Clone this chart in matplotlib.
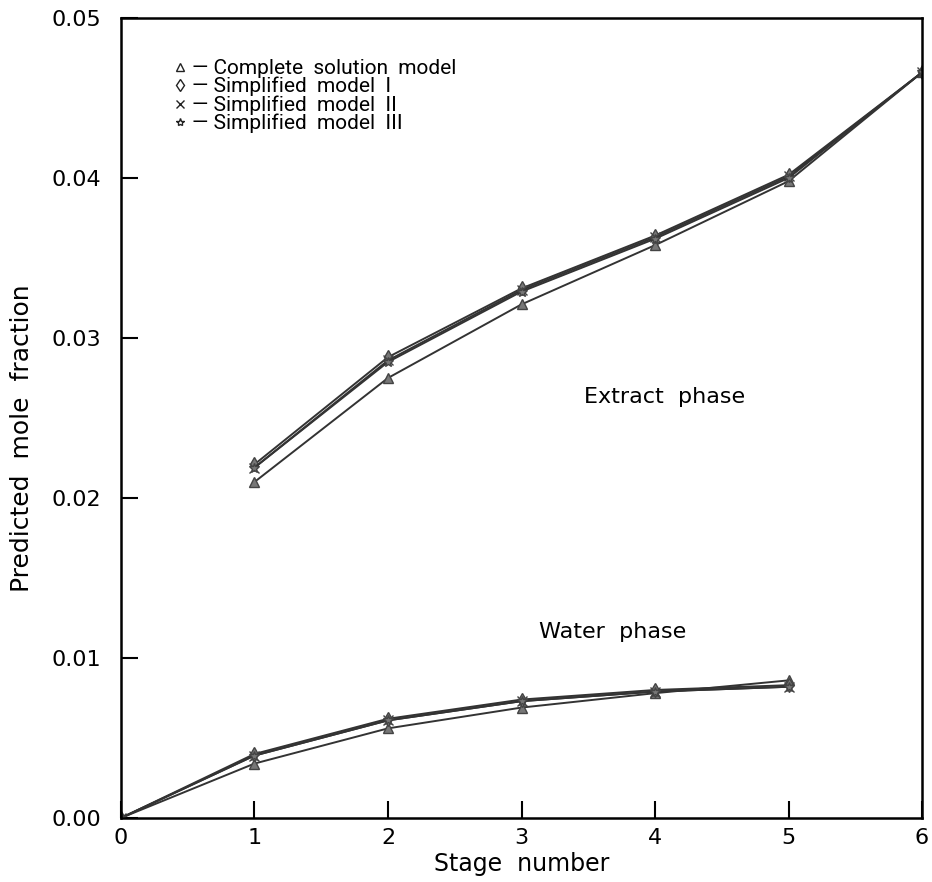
import matplotlib
matplotlib.use('Agg')
import matplotlib.pyplot as plt
from matplotlib.lines import Line2D
from matplotlib import font_manager

# --- datos: fracción molar predicha por etapa ---
etapas_extracto = [1, 2, 3, 4, 5, 6]
extracto_completo = [0.0210, 0.0275, 0.0321, 0.0358, 0.0398, 0.0466]
extracto_simp_1 = [0.0221, 0.0288, 0.0331, 0.0364, 0.0402, 0.0466]
extracto_simp_2 = [0.0219, 0.0286, 0.0330, 0.0363, 0.0401, 0.0466]
extracto_simp_3 = [0.0219, 0.0285, 0.0329, 0.0362, 0.0400, 0.0466]

etapas_agua = [0, 1, 2, 3, 4, 5]
agua_completo = [0.0, 0.0034, 0.0056, 0.0069, 0.0078, 0.0086]
agua_simp_1 = [0.0, 0.0040, 0.0062, 0.0074, 0.0080, 0.0083]
agua_simp_2 = [0.0, 0.0039, 0.0061, 0.0073, 0.0079, 0.0082]
agua_simp_3 = [0.0, 0.0039, 0.0061, 0.0073, 0.0079, 0.0082]

modelos = ['Complete  solution  model', 'Simplified  model  I',
           'Simplified  model  II', 'Simplified  model  III']
marcadores = ['^', 'd', 'x', '*']

x_ticks = [0, 1, 2, 3, 4, 5, 6]
y_ticks = [0.00, 0.01, 0.02, 0.03, 0.04, 0.05]

plt.rcParams['font.family'] = ['DejaVu Sans']

# fuente estrecha para la leyenda si está disponible
disponibles = {f.name for f in font_manager.fontManager.ttflist}
fuente_leyenda = 'Liberation Sans Narrow' if 'Liberation Sans Narrow' in disponibles else 'Roboto'

fig = plt.figure(figsize=(9.32, 8.82), dpi=100)
ax = fig.add_axes([0.1298, 0.0726, 0.8595, 0.907])

series_extracto = [extracto_completo, extracto_simp_1, extracto_simp_2, extracto_simp_3]
series_agua = [agua_completo, agua_simp_1, agua_simp_2, agua_simp_3]

for ys, m in zip(series_extracto, marcadores):
    ax.plot(etapas_extracto, ys, color='#333333', linewidth=1.4, marker=m,
            markersize=7, markerfacecolor='#777777', markeredgecolor='#444444')
for ys, m in zip(series_agua, marcadores):
    ax.plot(etapas_agua, ys, color='#333333', linewidth=1.4, marker=m,
            markersize=7, markerfacecolor='#777777', markeredgecolor='#444444')

ax.set_xlim(0, 6)
ax.set_ylim(0, 0.05)
ax.set_xticks(x_ticks)
ax.set_yticks(y_ticks)
ax.set_yticklabels([f'{v:.2f}' for v in y_ticks])
ax.tick_params(direction='in', length=12, width=1.5, labelsize=16,
               top=False, right=False)
ax.tick_params(axis='x', pad=7)
ax.tick_params(axis='y', pad=14)

for s in ax.spines.values():
    s.set_linewidth(1.8)

ax.set_xlabel('Stage  number', fontsize=17)
ax.xaxis.set_label_coords(0.5, -0.043)
ax.set_ylabel('Predicted  mole  fraction', fontsize=18)
ax.yaxis.set_label_coords(-0.108, 0.475)

ax.text(4.07, 0.0263, 'Extract  phase', fontsize=16, ha='center', va='center')
ax.text(3.68, 0.0116, 'Water  phase', fontsize=16, ha='center', va='center')

# leyenda: marcador seguido de guion
handles = [Line2D([], [], linestyle='none', marker=m, markersize=6,
                  markerfacecolor='white', markeredgecolor='#222222')
           for m in marcadores]
etiquetas = ['\u2014 ' + t for t in modelos]
ax.legend(handles, etiquetas, loc='upper left', bbox_to_anchor=(0.045, 0.967),
          frameon=False, handlelength=0.8, handletextpad=0.2,
          labelspacing=-0.05, borderpad=0.2,
          prop={'family': fuente_leyenda, 'size': 15})

fig.savefig('out.png', dpi=100)
